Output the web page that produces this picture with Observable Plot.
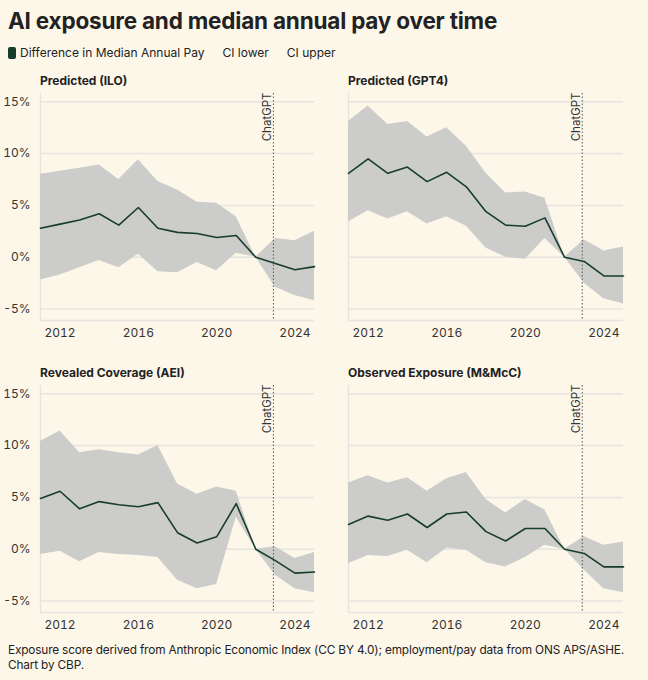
<!DOCTYPE html>
<html><head><meta charset="utf-8">
<script src="https://cdn.jsdelivr.net/npm/d3@7"></script>
<script src="https://cdn.jsdelivr.net/npm/@observablehq/plot@0.6"></script>
<style>
body{margin:0;background:#fdf7ea;font-family:Inter,sans-serif;color:#222;}
#wrap{width:648px;padding:0;}
h1{font-size:22.5px;font-weight:700;margin:0;padding:7px 0 0 8px;letter-spacing:-0.2px;}
.legend{font-size:12px;padding:11px 0 0 8px;display:flex;gap:18px;align-items:center;}
.sw{display:inline-block;width:8px;height:12px;background:#173d2c;border-radius:2px;margin-right:4px;vertical-align:-2px;}
.grid{display:grid;grid-template-columns:324px 324px;}
.ptitle{font-size:12px;font-weight:700;height:16px;}
.cap{font-size:11.8px;letter-spacing:-0.15px;padding:6px 8px;line-height:15px;}
</style></head><body><div id="wrap">
<h1>AI exposure and median annual pay over time</h1>
<div class="legend"><span><span class="sw"></span>Difference in Median Annual Pay</span><span>CI lower</span><span>CI upper</span></div>
<div class="grid" id="g"></div>
<div class="cap">Exposure score derived from Anthropic Economic Index (CC BY 4.0); employment/pay data from ONS APS/ASHE. Chart by CBP.</div>
</div>
<script>
const years=[2011,2012,2013,2014,2015,2016,2017,2018,2019,2020,2021,2022,2023,2024,2025];
const panelTitles=["Predicted (ILO)","Predicted (GPT4)","Revealed Coverage (AEI)","Observed Exposure (M&McC)"];
const ilo=[2.8,3.2,3.6,4.2,3.1,4.8,2.8,2.4,2.3,1.9,2.1,0,-0.6,-1.2,-0.9];
const iloUp=[8.0,8.3,8.6,8.9,7.5,9.4,7.3,6.5,5.3,5.2,3.9,0,1.8,1.6,2.5];
const iloLo=[-2.2,-1.7,-1.0,-0.3,-1.0,0.3,-1.4,-1.5,-0.5,-1.3,0.4,0,-2.9,-3.7,-4.2];
const gpt=[8.1,9.5,8.1,8.7,7.3,8.2,6.8,4.4,3.1,3.0,3.8,0,-0.4,-1.8,-1.8];
const gptUp=[13.1,14.6,12.8,13.1,11.6,12.5,10.7,8.1,6.2,6.3,5.7,0,1.7,0.6,1.0];
const gptLo=[3.4,4.5,3.7,4.4,3.2,3.9,3.0,0.9,0,-0.2,1.8,0,-2.5,-4.0,-4.5];
const aei=[4.9,5.6,3.9,4.6,4.3,4.1,4.5,1.6,0.6,1.2,4.4,0,-1.1,-2.3,-2.2];
const aeiUp=[10.4,11.4,9.3,9.6,9.3,9.1,10.0,6.3,5.3,6.0,5.6,0,0.25,-0.9,-0.3];
const aeiLo=[-0.5,-0.2,-1.2,-0.3,-0.5,-0.6,-0.8,-3.0,-3.8,-3.4,3.1,0,-2.5,-3.8,-4.2];
const obs=[2.4,3.2,2.8,3.4,2.1,3.4,3.6,1.7,0.8,2.0,2.0,0,-0.4,-1.7,-1.7];
const obsUp=[6.4,7.1,6.4,6.9,5.6,6.8,7.4,4.8,3.5,4.8,3.8,0,1.2,0.4,0.7];
const obsLo=[-1.4,-0.6,-0.7,-0.1,-1.3,0.1,-0.1,-1.3,-1.7,-0.8,0.4,0,-2.0,-3.8,-4.2];
const yTicks=[-5,0,5,10,15];
const xTicks=[2012,2016,2020,2024];
const chatgpt=[2022.9];
const series=[[ilo,iloLo,iloUp],[gpt,gptLo,gptUp],[aei,aeiLo,aeiUp],[obs,obsLo,obsUp]];
const g=document.getElementById("g");
series.forEach(([v,lo,up],i)=>{
  const left=i%2===0;
  const data=years.map((y,j)=>({year:y,v:v[j],lo:lo[j],up:up[j]}));
  const div=document.createElement("div");
  div.style.paddingTop=i<2?"13px":"20px";
  const t=document.createElement("div");t.className="ptitle";t.textContent=panelTitles[i];
  t.style.paddingLeft=left?"40px":"24px";
  div.appendChild(t);
  const p=Plot.plot({
    width:324,height:256,marginLeft:left?40:24,marginRight:324-(left?314:299),marginTop:4,marginBottom:25,
    style:{background:"transparent",fontFamily:"Inter, sans-serif",fontSize:"12px",color:"#333"},
    x:{domain:[2011,2025],ticks:xTicks,tickFormat:d=>String(d),label:null,tickSize:0,tickPadding:8},
    y:{domain:[-6.1,15.8],ticks:yTicks,tickFormat:d=>d+"%",label:null,tickSize:0,axis:left?"left":null,tickPadding:10},
    marks:[
      Plot.gridY(yTicks,{stroke:"#e6e4df",strokeOpacity:1,strokeWidth:1.5}),
      Plot.ruleX([2011],{stroke:"#e6e4df",strokeWidth:1.5}),
      Plot.ruleY([-6.1],{stroke:"#e6e4df",strokeWidth:1.5}),
      Plot.areaY(data,{x:"year",y1:"lo",y2:"up",fill:"#cccccb"}),
      Plot.line(data,{x:"year",y:"v",stroke:"#173d2c",strokeWidth:1.6}),
      Plot.ruleX(chatgpt,{stroke:"#555",strokeDasharray:"1.5,2",strokeWidth:1}),
      Plot.text(chatgpt,{x:d=>d,y:15.8,text:()=>"ChatGPT",rotate:-90,textAnchor:"end",dx:-6,dy:-1,fill:"#333",fontSize:11.5})
    ]
  });
  div.appendChild(p);g.appendChild(div);
});
</script></body></html>
